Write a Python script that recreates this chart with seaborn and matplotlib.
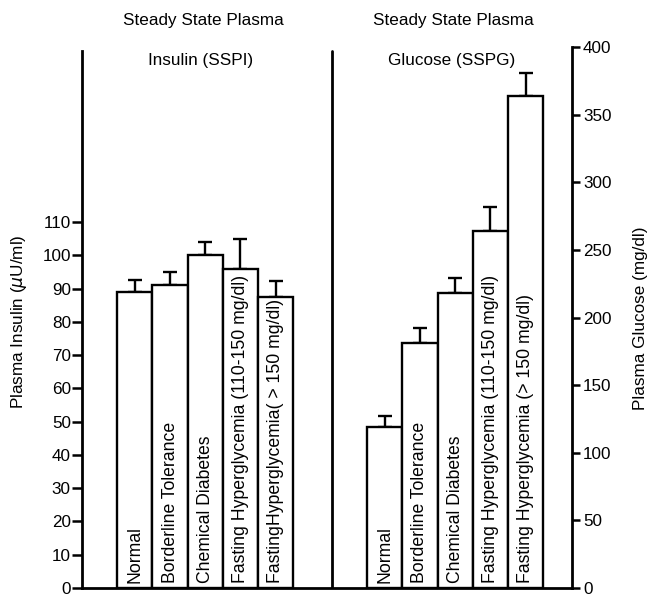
import matplotlib
matplotlib.use("Agg")
import matplotlib.pyplot as plt
import seaborn as sns
import pandas as pd
import numpy as np

# ---- data ----
groups = ["Normal", "Borderline Tolerance", "Chemical Diabetes",
          "Fasting Hyperglycemia (110-150 mg/dl)",
          "Fasting Hyperglycemia (> 150 mg/dl)"]
insulin_labels = ["Normal", "Borderline Tolerance", "Chemical Diabetes",
                  "Fasting Hyperglycemia (110-150 mg/dl)",
                  "FastingHyperglycemia( > 150 mg/dl)"]
insulin_mean = [89, 91, 100, 96, 87.5]
insulin_err = [3.5, 4, 4, 9, 4.7]
glucose_mean = [119, 181, 218, 264, 364]
glucose_err = [8, 11, 11, 18, 17]
insulin_ticks = list(range(0, 111, 10))
glucose_ticks = list(range(0, 401, 50))

sns.set_style("ticks")
plt.rcParams['font.family'] = ['Liberation Sans', 'DejaVu Sans']
plt.rcParams['text.color'] = 'black'
plt.rcParams['axes.labelcolor'] = 'black'
plt.rcParams['xtick.color'] = 'black'
plt.rcParams['ytick.color'] = 'black'
plt.rcParams['axes.edgecolor'] = 'black'
FS = 12.3
FSB = 12.7

n = len(groups)
ins_pos = np.arange(n) + 1.5
glu_pos = np.arange(n) + 8.6

df_ins = pd.DataFrame({"pos": ins_pos, "val": insulin_mean})
df_glu = pd.DataFrame({"pos": glu_pos, "val": glucose_mean})

fig = plt.figure(figsize=(6.48, 6.0), dpi=100)
ax = fig.add_axes([82/648, 12/600, (572-82)/648, (588-47)/600])
ax2 = ax.twinx()

sns.barplot(data=df_ins, x="pos", y="val", native_scale=True, width=1.0,
            color="white", edgecolor="black", linewidth=1.7, ax=ax,
            errorbar=None, zorder=3)
sns.barplot(data=df_glu, x="pos", y="val", native_scale=True, width=1.0,
            color="white", edgecolor="black", linewidth=1.7, ax=ax2,
            errorbar=None, zorder=3)

ax.errorbar(ins_pos, insulin_mean, yerr=[np.zeros(n), insulin_err], fmt='none',
            ecolor='black', elinewidth=1.7, capsize=5, capthick=1.7, zorder=2)
ax2.errorbar(glu_pos, glucose_mean, yerr=[np.zeros(n), glucose_err], fmt='none',
             ecolor='black', elinewidth=1.7, capsize=5, capthick=1.7, zorder=2)

ax.set_xlim(0, 13.92)
ax.set_ylim(0, 162.6)
ax2.set_ylim(0, 400)

ax.set_yticks(insulin_ticks)
ax2.set_yticks(glucose_ticks)
ax.set_xticks([])
ax2.set_xticks([])
ax.set_xlabel("")
ax.set_ylabel("")
ax2.set_xlabel("")
ax2.set_ylabel("")

for a in (ax, ax2):
    a.spines['top'].set_visible(False)
    for s in a.spines.values():
        s.set_linewidth(2.0)
        s.set_color('black')
ax.spines['right'].set_visible(False)
ax2.spines['left'].set_visible(False)
ax2.spines['bottom'].set_visible(False)
ax2.spines['right'].set_visible(True)
ax.spines['left'].set_bounds(0, 161.5)
ax2.spines['right'].set_bounds(0, 400)

ax.tick_params(axis='y', direction='out', length=7, width=1.8, labelsize=FS, pad=1)
ax2.tick_params(axis='y', direction='out', length=6, width=1.8, labelsize=FS, pad=2)

ax.axvline(7.1, ymin=0, ymax=(588-51)/541, color='black', lw=2.0)

for p, lab in zip(ins_pos, insulin_labels):
    ax.text(p, 0.01, lab, rotation=90, ha='center', va='bottom', fontsize=FSB,
            transform=ax.get_xaxis_transform(), zorder=5)
for p, lab in zip(glu_pos, groups):
    ax2.text(p, 0.01, lab, rotation=90, ha='center', va='bottom', fontsize=FSB,
             transform=ax2.get_xaxis_transform(), zorder=5)

fig.text(203/648, 1-21/600, "Steady State Plasma", ha='center', va='center', fontsize=FS)
fig.text(201/648, 1-61/600, "Insulin (SSPI)", ha='center', va='center', fontsize=FS)
fig.text(453/648, 1-21/600, "Steady State Plasma", ha='center', va='center', fontsize=FS)
fig.text(452/648, 1-61/600, "Glucose (SSPG)", ha='center', va='center', fontsize=FS)

fig.text(19/648, 1-322/600, "Plasma Insulin ($\\mu$U/ml)", rotation=90,
         ha='center', va='center', fontsize=FS)
fig.text(641/648, 1-318/600, "Plasma Glucose (mg/dl)", rotation=90,
         ha='center', va='center', fontsize=FS)

fig.savefig("out.png", dpi=100)
